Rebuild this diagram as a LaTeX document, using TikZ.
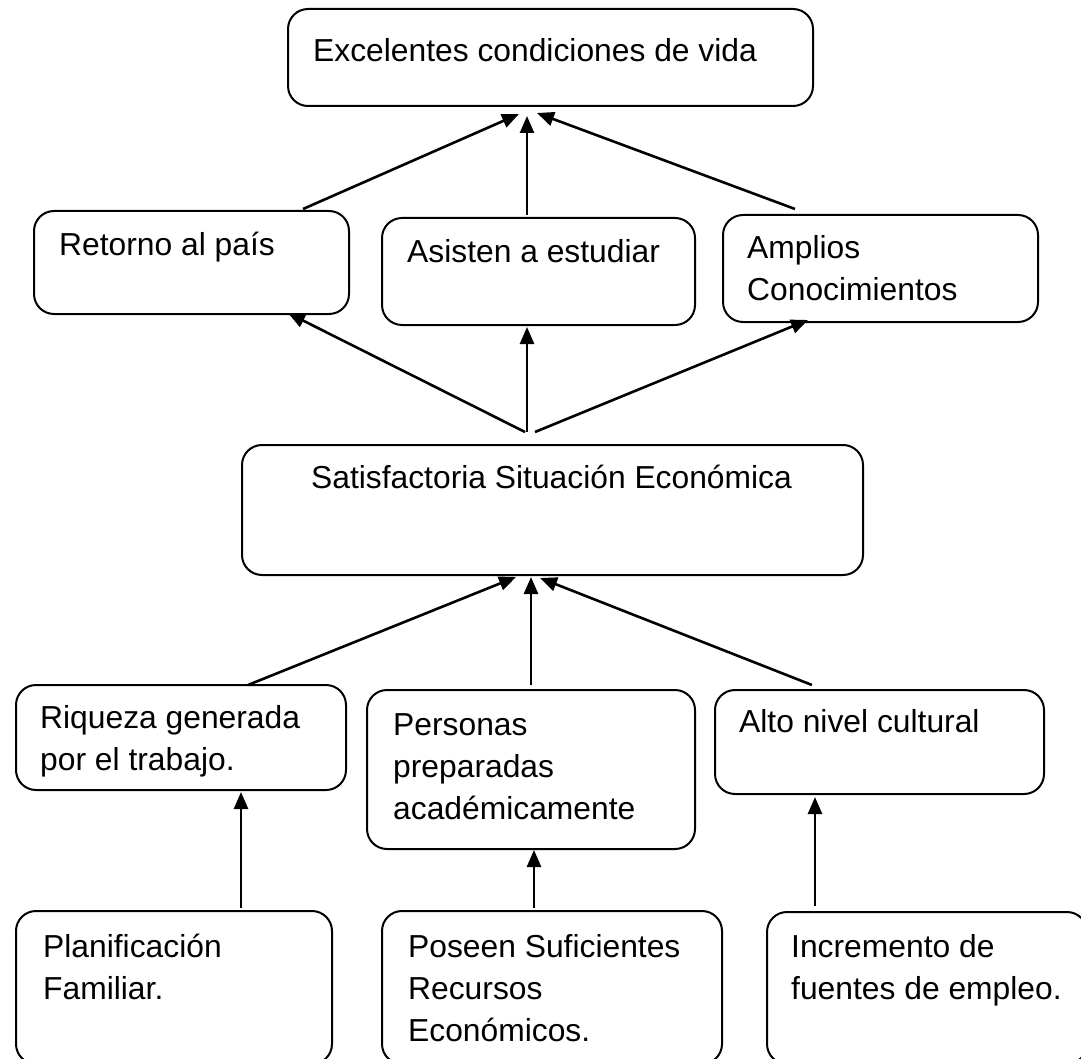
\documentclass[tikz,border=0pt]{standalone}
\usepackage{fontspec}
\setmainfont{Liberation Sans}
\usetikzlibrary{arrows.meta}
\begin{document}
\begin{tikzpicture}[x=1pt,y=-1pt,
  box/.style={draw, line width=2pt, rounded corners=20pt, anchor=north west, inner sep=0pt},
  lbl/.style={anchor=base west, inner sep=0pt, align=left, font=\fontsize{31.8}{42}\selectfont},
  arr/.style={line width=2.6pt, -{Triangle[width=14pt,length=17pt]}}]
\useasboundingbox (0,0) rectangle (1081,1059);
\clip (0,0) rectangle (1081,1059);
% boxes
\node[box, minimum width=525pt, minimum height=97pt]  (top)  at (287,8)   {};
\node[box, minimum width=315pt, minimum height=103pt] (ret)  at (33,210)  {};
\node[box, minimum width=313pt, minimum height=107pt] (asi)  at (381,217) {};
\node[box, minimum width=315pt, minimum height=107pt] (amp)  at (722,214) {};
\node[box, minimum width=621pt, minimum height=130pt] (sat)  at (241,444) {};
\node[box, minimum width=330pt, minimum height=105pt] (riq)  at (15,684)  {};
\node[box, minimum width=328pt, minimum height=159pt] (per)  at (366,689) {};
\node[box, minimum width=329pt, minimum height=104pt] (alto) at (714,689) {};
\node[box, minimum width=316pt, minimum height=153pt] (pla)  at (15,910)  {};
\node[box, minimum width=340pt, minimum height=153pt] (pos)  at (381,910) {};
\node[box, minimum width=320pt, minimum height=152pt] (inc)  at (766,911) {};
% texts (anchor = baseline of the last line)
\node[lbl] (ttop) at (313,62)  {Excelentes condiciones de vida};
\node[lbl] (tret) at (59,255)  {Retorno al país};
\node[lbl] (tasi) at (407,262) {Asisten a estudiar};
\node[lbl] (tamp) at (747,300) {Amplios\\Conocimientos};
\node[lbl, anchor=base] (tsat) at (551.5,488) {Satisfactoria Situación Económica};
\node[lbl] (triq) at (40,770)  {Riqueza generada\\por el trabajo.};
\node[lbl] (tper) at (393,819) {Personas\\preparadas\\académicamente};
\node[lbl] (talto) at (739,732) {Alto nivel cultural};
\node[lbl] (tpla) at (43,999)  {Planificación\\Familiar.};
\node[lbl] (tpos) at (408,1041) {Poseen Suficientes\\Recursos\\Económicos.};
\node[lbl] (tinc) at (791,999) {Incremento de\\fuentes de empleo.};
% connector ends
\coordinate (a1s) at (303,209); \coordinate (a1e) at (519,114);
\coordinate (a2s) at (527,215); \coordinate (a2e) at (527,116);
\coordinate (a3s) at (795,209); \coordinate (a3e) at (537,113);
\coordinate (b1s) at (525,432); \coordinate (b1e) at (288,313);
\coordinate (b2s) at (527,432); \coordinate (b2e) at (527,327);
\coordinate (b3s) at (535,432); \coordinate (b3e) at (808,320);
\coordinate (c1s) at (248,685); \coordinate (c1e) at (516,577);
\coordinate (c2s) at (531,685); \coordinate (c2e) at (531,577);
\coordinate (c3s) at (812,685); \coordinate (c3e) at (540,578);
\coordinate (d1s) at (241,908); \coordinate (d1e) at (241,792);
\coordinate (d2s) at (534,908); \coordinate (d2e) at (534,850);
\coordinate (d3s) at (815,906); \coordinate (d3e) at (815,797);
\foreach \n in {a1,a2,a3,b1,b2,b3,c1,c2,c3,d1,d2,d3}
  \draw[arr] (\n s) -- (\n e);
\end{tikzpicture}
\end{document}
